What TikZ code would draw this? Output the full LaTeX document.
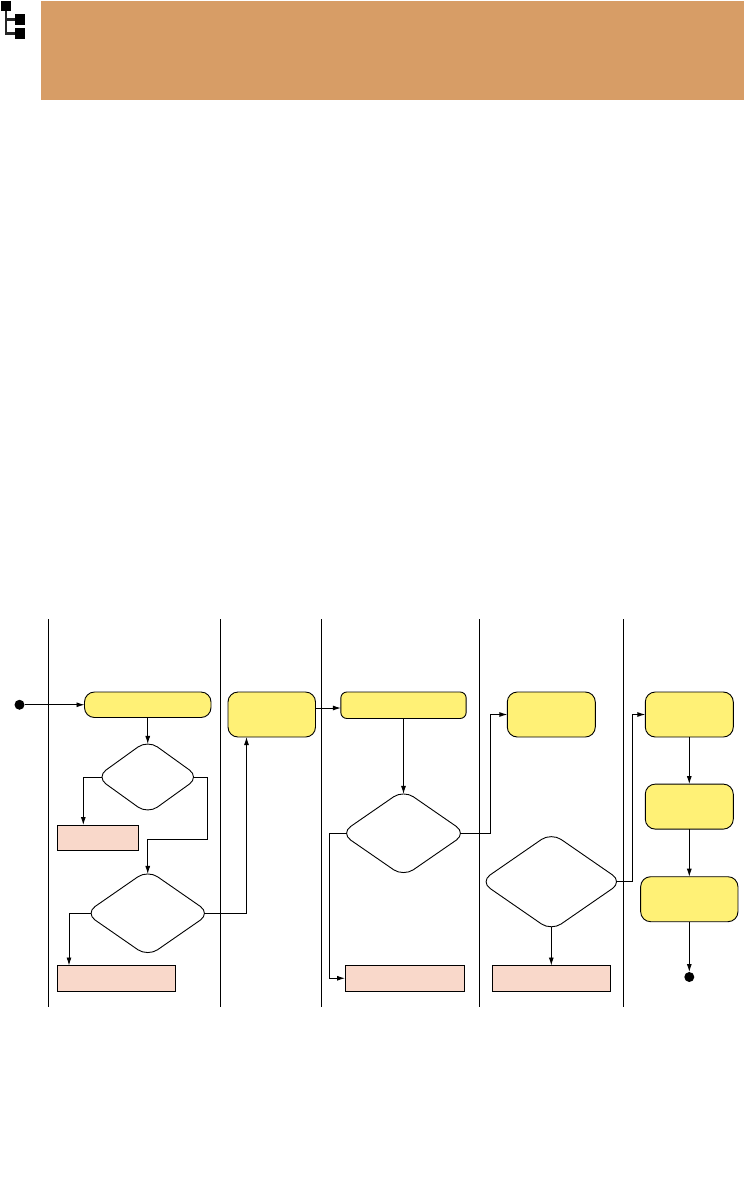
\documentclass[tikz,border=0pt]{standalone}
\definecolor{headerTan}{HTML}{D79D66}
\definecolor{stepYellow}{HTML}{FFF176}
\definecolor{errorPink}{HTML}{F9D8CA}
\usetikzlibrary{arrows.meta,shapes.geometric}

\begin{document}
\begin{tikzpicture}[x=1pt, y=-1pt, line width=0.9pt,
    stepbox/.style={draw, fill=stepYellow, rounded corners=10pt, inner sep=0pt, outer sep=0pt},
    errorbox/.style={draw, fill=errorPink, inner sep=0pt, outer sep=0pt},
    decision/.style={draw, fill=white, diamond, rounded corners=12pt, inner sep=0pt, outer sep=0pt},
    terminal/.style={circle, fill=black, inner sep=0pt, outer sep=0pt, minimum size=10pt},
    iconbox/.style={fill=black, inner sep=0pt, outer sep=0pt, minimum size=10.5pt},
    flow/.style={-{Latex[length=8pt,width=5pt]}},
    fromside/.style={shorten <=-5.7pt},
    fromtip/.style={shorten <=-4pt},
    intotip/.style={shorten >=-4pt}]
  \useasboundingbox (0,0) rectangle (744,1179);

  % Header band and icon
  \node[fill=headerTan, inner sep=0pt, outer sep=0pt, minimum width=703pt, minimum height=99pt] (header) at (392.5,50.5) {};
  \node[iconbox] (icontop) at (6,6) {};
  \node[iconbox] (iconmid) at (20,19.5) {};
  \node[iconbox] (iconlow) at (20,33.5) {};
  \draw[line width=2.2pt, black!85] (icontop.south) |- (iconmid.west);
  \draw[line width=2.2pt, black!85] (icontop.south) |- (iconlow.west);

  % Lanes
  \foreach \lanex in {48.5,220,321.5,479.5,623.5}
    \draw (\lanex,619) -- (\lanex,1007);

  % First lane
  \node[terminal] (start) at (19.5,704.75) {};
  \node[stepbox, minimum width=126.5pt, minimum height=25.5pt] (receive) at (147.75,704.75) {};
  \node[decision, minimum width=102.9pt, minimum height=74.1pt] (checka) at (147.75,777) {};
  \node[errorbox, minimum width=81pt, minimum height=25pt] (rejecta) at (98,837.5) {};
  \node[decision, minimum width=124.9pt, minimum height=86.6pt] (checkb) at (147.75,913.25) {};
  \node[errorbox, minimum width=118pt, minimum height=25.5pt] (rejectb) at (116.5,978.25) {};
  \coordinate (checkaturn) at (207.5,839.5);

  % Second lane
  \node[stepbox, minimum width=87.5pt, minimum height=45pt] (prepare) at (271.75,714.5) {};

  % Third lane
  \node[stepbox, rounded corners=6pt, minimum width=125.3pt, minimum height=26.5pt] (review) at (403.5,705.25) {};
  \node[decision, minimum width=125.4pt, minimum height=86.6pt] (checkc) at (403.5,833.25) {};
  \node[errorbox, minimum width=119.5pt, minimum height=25.5pt] (rejectc) at (404.75,978.25) {};
  \coordinate (checkcleft) at (329.5,833.25);
  \coordinate (checkcright) at (490.5,833.25);

  % Fourth lane
  \node[stepbox, minimum width=88pt, minimum height=45pt] (approve) at (551.3,714.5) {};
  \node[decision, minimum width=142pt, minimum height=98.1pt] (checkd) at (551.3,881.7) {};
  \node[errorbox, minimum width=118.4pt, minimum height=25.5pt] (rejectd) at (551.3,978.25) {};
  \coordinate (checkdright) at (632.5,881.7);

  % Fifth lane
  \node[stepbox, minimum width=88pt, minimum height=45pt] (issue) at (689.3,714.5) {};
  \node[stepbox, minimum width=88pt, minimum height=45pt] (record) at (689.3,806.6) {};
  \node[stepbox, minimum width=97.3pt, minimum height=45pt] (archive) at (689.3,899.2) {};
  \node[terminal] (finish) at (689.3,977) {};

  % Connectors
  \draw[flow] (start) -- (receive.west);
  \draw[flow, intotip] (receive.south) -- (checka.north);
  \draw[flow, fromside] (checka.west) -| ([xshift=-14.7pt]rejecta.north);
  \draw[flow, fromside, intotip] (checka.east) -| (checkaturn) -| (checkb.north);
  \draw[flow, fromside] (checkb.west) -| ([xshift=-47.5pt]rejectb.north);
  \draw[flow, fromside] (checkb.east) -| ([xshift=-25.25pt]prepare.south);
  \draw[flow] ([yshift=6.5pt]prepare.east) -- ([yshift=-2.75pt]review.west);
  \draw[flow, intotip] (review.south) -- (checkc.north);
  \draw[flow, fromside] (checkc.west) -- (checkcleft) |- (rejectc.west);
  \draw[flow, fromside] (checkc.east) -- (checkcright) |- (approve.west);
  \draw[flow, fromtip] (checkd.south) -- (rejectd.north);
  \draw[flow, fromside] (checkd.east) -- (checkdright) |- (issue.west);
  \draw[flow] (issue.south) -- (record.north);
  \draw[flow] (record.south) -- (archive.north);
  \draw[flow] (archive.south) -- (finish.north);
\end{tikzpicture}
\end{document}
